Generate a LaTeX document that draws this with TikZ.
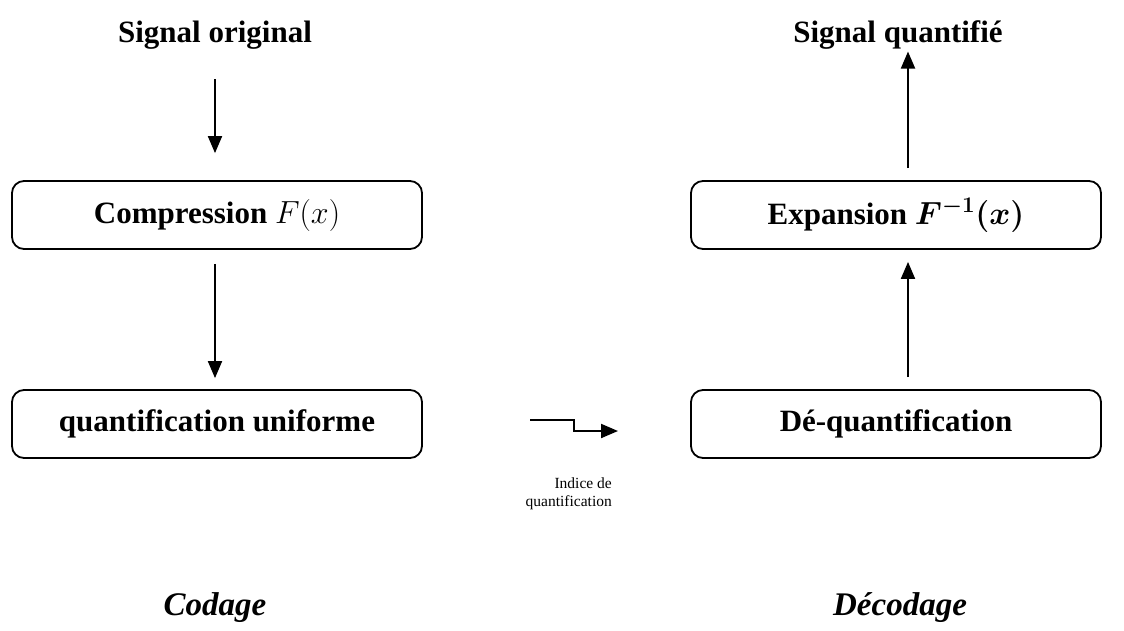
\RequirePackage{fix-cm}
\documentclass[tikz,border=0pt]{standalone}
\usepackage{amsmath}
\usepackage{fontspec}
\setmainfont{Liberation Serif}
\usetikzlibrary{arrows.meta}
\tikzset{
  big/.style={font=\fontsize{31}{36}\selectfont\bfseries, inner sep=0pt},
  box/.style={draw, line width=1.8pt, rounded corners=12pt, minimum width=410pt, minimum height=68pt, font=\fontsize{31}{36}\selectfont\bfseries, inner sep=0pt},
  arr/.style={line width=1.9pt, -{Triangle[width=14pt,length=17pt]}},
  small/.style={font=\fontsize{15.5}{18}\selectfont, align=right, inner sep=0pt},
  part/.style={font=\fontsize{33}{38}\selectfont\bfseries\itshape, inner sep=0pt}
}
\newcommand{\mymath}[1]{\fontsize{32}{38}\selectfont$#1$}
\begin{document}
\begin{tikzpicture}[x=1pt,y=-1pt]
\useasboundingbox (0,0) rectangle (1124,630);
\node[big] (so) at (215,35) {Signal original};
\node[big] (sq) at (898,35) {Signal quantifié};
\node[box] (comp) at (217,215) {Compression {\mymath{F(x)}}};
\node[box] (qu) at (217,424) {quantification uniforme};
\node[box] (exp) at (896,215) {Expansion {\mathversion{bold}\mymath{F^{-1}(x)}}};
\node[box] (deq) at (896,424) {Dé-quantification};
\node[small, anchor=north east] (ind) at (612,478) {Indice de\\quantification};
\node[part] (cod) at (215,608) {Codage};
\node[part] (dec) at (900,608) {Décodage};
\draw[arr, shorten <=30pt, shorten >=27pt] (so.south -| 215,0) -- (comp.north -| 215,0);
\draw[arr, shorten <=14pt, shorten >=11pt] (comp.south -| 215,0) -- (qu.north -| 215,0);
\draw[arr, shorten <=12pt, shorten >=12pt] (deq.north -| 908,0) -- (exp.south -| 908,0);
\draw[arr, shorten <=12pt, shorten >=2pt] (exp.north -| 908,0) -- (sq.south -| 908,0);
\coordinate (m0) at (530,420);
\coordinate (m1) at (618,431);
\draw[arr, line width=2pt] (m0) -- (574,420) |- (m1);
\end{tikzpicture}
\end{document}
